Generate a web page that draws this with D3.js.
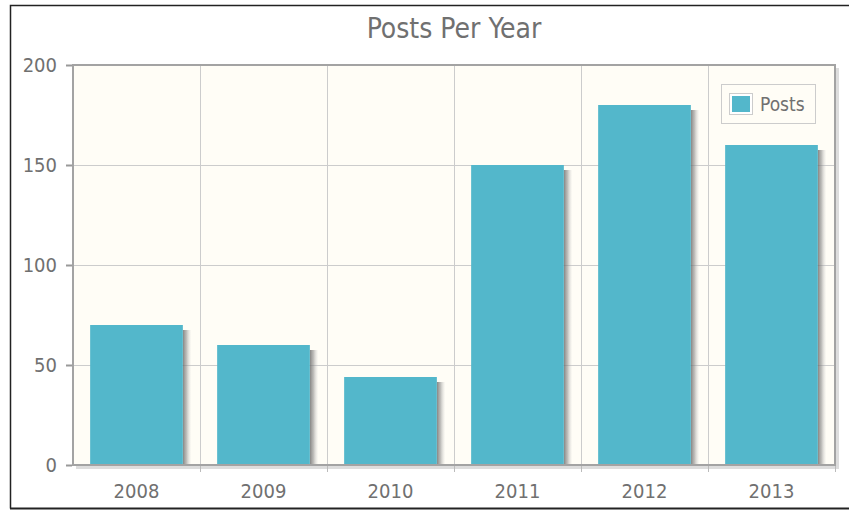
<!DOCTYPE html>
<html>
<head>
<meta charset="utf-8">
<script src="https://cdn.jsdelivr.net/npm/d3@7"></script>
<style>
  body { margin: 0; background: #fff; }
  text { font-family: "DejaVu Sans Condensed", "DejaVu Sans", sans-serif; fill: #707070; }
</style>
</head>
<body>
<script>
const years = ['2008', '2009', '2010', '2011', '2012', '2013']
const posts = [70, 60, 44, 150, 180, 160]
const yTicks = [0, 50, 100, 150, 200]
const seriesName = 'Posts'

const width = 849
const height = 510
const margin = {top: 65, right: 14, bottom: 45, left: 73}
const barColor = '#53b7cb'
const textColor = '#707070'
const fontStack = '"DejaVu Sans Condensed", "DejaVu Sans", sans-serif'

const svg = d3.select('body')
  .append('svg')
  .attr('width', width)
  .attr('height', height)

const defs = svg.append('defs')
const grad = defs.append('linearGradient')
  .attr('id', 'shade')
const stops = [[0, '#666', 0.8], [0.45, '#888', 0.55], [1, '#ccc', 0.1]]
stops.forEach(([o, c, a]) => {
  grad.append('stop').attr('offset', o).attr('stop-color', c).attr('stop-opacity', a)
})

// outer frame
svg.append('path')
  .attr('d', `M10.5,${height - 1.5} V5.5 H${width}`)
  .attr('fill', 'none')
  .attr('stroke', '#222')
  .attr('stroke-width', 1.5)
svg.append('line')
  .attr('x1', 10).attr('x2', width)
  .attr('y1', height - 1.5).attr('y2', height - 1.5)
  .attr('stroke', '#222').attr('stroke-width', 2)

const x = d3.scaleBand()
  .domain(years)
  .range([margin.left, width - margin.right])
  .paddingInner(0.27)
  .paddingOuter(0.135)

const bandX = d3.scaleBand()
  .domain(years)
  .range([margin.left, width - margin.right])

const y = d3.scaleLinear()
  .domain([0, 200])
  .range([height - margin.bottom, margin.top])

const x0 = margin.left
const x1 = width - margin.right
const y0 = height - margin.bottom
const y1 = margin.top

// plot background
svg.append('rect')
  .attr('x', x0).attr('y', y1)
  .attr('width', x1 - x0).attr('height', y0 - y1)
  .attr('fill', '#fffdf6')

// grid
svg.append('g')
  .selectAll('line')
  .data(yTicks.slice(1, -1))
  .join('line')
  .attr('x1', x0).attr('x2', x1)
  .attr('y1', (d) => y(d) + 0.5).attr('y2', (d) => y(d) + 0.5)
  .attr('stroke', '#cccccc')

svg.append('g')
  .selectAll('line')
  .data(years.slice(1))
  .join('line')
  .attr('x1', (d) => bandX(d) + 0.5).attr('x2', (d) => bandX(d) + 0.5)
  .attr('y1', y1).attr('y2', y0)
  .attr('stroke', '#cccccc')

// bar shadows
svg.append('g')
  .selectAll('rect')
  .data(posts)
  .join('rect')
  .attr('x', (d, i) => x(years[i]) + x.bandwidth())
  .attr('y', (d) => y(d) + 5)
  .attr('width', 8)
  .attr('height', (d) => y0 - y(d) - 5)
  .attr('fill', 'url(#shade)')

// bars
svg.append('g')
  .selectAll('rect')
  .data(posts)
  .join('rect')
  .attr('x', (d, i) => x(years[i]))
  .attr('y', (d) => y(d))
  .attr('width', x.bandwidth())
  .attr('height', (d) => y0 - y(d))
  .attr('fill', barColor)

// plot border shadow + border
svg.append('path')
  .attr('d', `M${x0 + 3},${y0 + 2.5} H${x1 + 2.5} V${y1 + 3}`)
  .attr('fill', 'none')
  .attr('stroke', '#ddd')
  .attr('stroke-width', 3)
svg.append('rect')
  .attr('x', x0).attr('y', y1)
  .attr('width', x1 - x0).attr('height', y0 - y1)
  .attr('fill', 'none')
  .attr('stroke', '#a3a3a3')
  .attr('stroke-width', 2)

// y axis
const yAxis = svg.append('g')
  .attr('transform', `translate(${x0 - 1},0)`)
  .call(d3.axisLeft(y).tickValues(yTicks).tickSize(6).tickPadding(9))
yAxis.select('.domain').remove()
yAxis.selectAll('.tick line').attr('stroke', '#999').attr('stroke-width', 2)
yAxis.selectAll('.tick text')
  .attr('font-size', 20)
  .attr('fill', textColor)
  .style('font-family', fontStack)

// x axis
const xAxis = svg.append('g')
  .attr('transform', `translate(0,${y0 + 1})`)
  .call(d3.axisBottom(bandX).tickSize(0).tickPadding(18))
xAxis.select('.domain').remove()
xAxis.selectAll('.tick text')
  .attr('font-size', 20)
  .attr('fill', textColor)
  .style('font-family', fontStack)

svg.append('g')
  .selectAll('line')
  .data(years.slice(1).concat(['end']))
  .join('line')
  .attr('x1', (d) => (d === 'end' ? x1 : bandX(d)) + 0.5)
  .attr('x2', (d) => (d === 'end' ? x1 : bandX(d)) + 0.5)
  .attr('y1', y0 + 1).attr('y2', y0 + 7)
  .attr('stroke', '#bbb')

// title
svg.append('text')
  .attr('x', (x0 + x1) / 2)
  .attr('y', 38)
  .attr('text-anchor', 'middle')
  .attr('font-size', 28)
  .attr('fill', textColor)
  .text('Posts Per Year')

// legend
const legend = svg.append('g')
  .attr('transform', 'translate(721,84)')
legend.append('rect')
  .attr('x', 0.5).attr('y', 0.5)
  .attr('width', 94).attr('height', 39)
  .attr('fill', '#fffdf6')
  .attr('stroke', '#cccccc')
legend.append('rect')
  .attr('x', 8.5).attr('y', 9.5)
  .attr('width', 23).attr('height', 21)
  .attr('fill', '#fff')
  .attr('stroke', '#cccccc')
legend.append('rect')
  .attr('x', 11).attr('y', 12)
  .attr('width', 18).attr('height', 16)
  .attr('fill', barColor)
legend.append('text')
  .attr('x', 39)
  .attr('y', 27)
  .attr('font-size', 19)
  .text(seriesName)
</script>
</body>
</html>
